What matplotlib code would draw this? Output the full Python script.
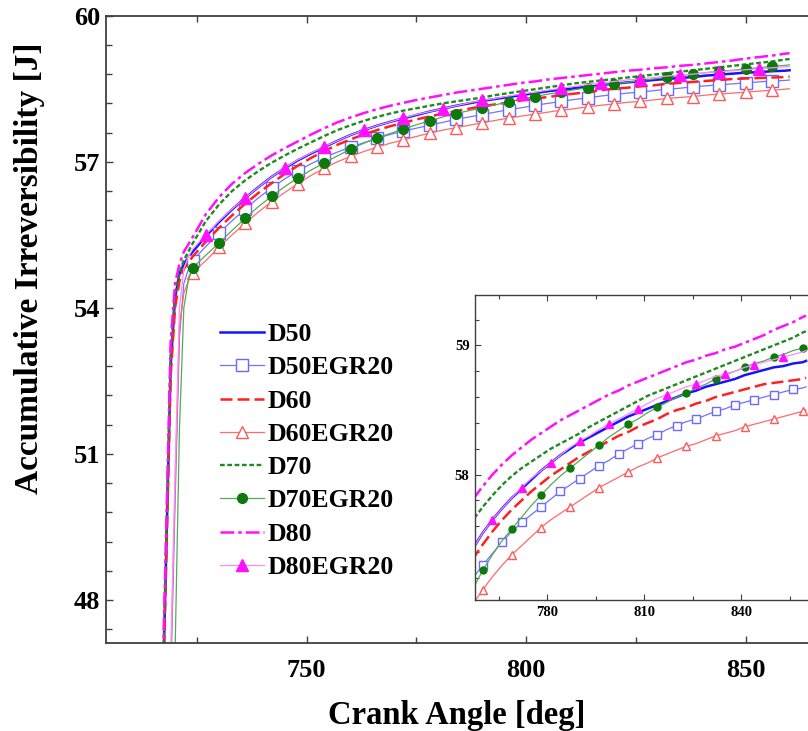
import matplotlib
matplotlib.use("Agg")
import matplotlib.pyplot as plt
from matplotlib.ticker import MultipleLocator

# ---------------- data ----------------
crank_angle = [716, 717, 718, 719, 720, 721, 722, 723,
               724, 727, 730, 733, 736, 739, 742, 745, 748, 751, 754, 757,
               760, 763, 766, 769, 772, 775, 778, 781, 784, 787, 790, 793,
               796, 799, 802, 805, 808, 811, 814, 817, 820, 823, 826, 829,
               832, 835, 838, 841, 844, 847, 850, 853, 856, 859, 860]

D50 = [43.0, 45.3, 49.0, 52.8, 54.2, 54.7, 54.9, 55.03,
       55.15, 55.47, 55.76, 56.02, 56.26, 56.48, 56.69, 56.87, 57.03, 57.17, 57.30, 57.43,
       57.55, 57.65, 57.74, 57.82, 57.89, 57.96, 58.03, 58.09, 58.15, 58.20, 58.25, 58.29,
       58.33, 58.37, 58.41, 58.45, 58.48, 58.51, 58.54, 58.57, 58.60, 58.63, 58.65, 58.68,
       58.70, 58.72, 58.74, 58.77, 58.79, 58.81, 58.83, 58.84, 58.86, 58.87, 58.88]

D50EGR20 = [40.5, 42.0, 44.0, 46.3, 50.0, 53.4, 54.5, 54.78,
            54.97, 55.26, 55.53, 55.79, 56.03, 56.26, 56.46, 56.65, 56.81, 56.96, 57.09, 57.20,
            57.30, 57.39, 57.48, 57.56, 57.63, 57.69, 57.75, 57.81, 57.87, 57.92, 57.97, 58.02,
            58.07, 58.11, 58.16, 58.20, 58.24, 58.28, 58.31, 58.35, 58.38, 58.41, 58.43, 58.46,
            58.49, 58.51, 58.54, 58.56, 58.58, 58.60, 58.62, 58.64, 58.66, 58.67, 58.68]

D60 = [43.0, 45.2, 48.8, 52.6, 54.0, 54.55, 54.8, 54.93,
       55.05, 55.36, 55.64, 55.90, 56.14, 56.36, 56.56, 56.75, 56.92, 57.08, 57.22, 57.35,
       57.46, 57.56, 57.65, 57.73, 57.80, 57.87, 57.93, 57.99, 58.04, 58.09, 58.14, 58.18,
       58.22, 58.26, 58.30, 58.33, 58.37, 58.40, 58.43, 58.47, 58.50, 58.52, 58.55, 58.57,
       58.60, 58.62, 58.64, 58.66, 58.68, 58.70, 58.71, 58.72, 58.73, 58.74, 58.75]

D60EGR20 = [40.8, 42.3, 44.3, 46.6, 50.3, 53.6, 54.3, 54.55,
            54.72, 54.97, 55.24, 55.50, 55.74, 55.97, 56.18, 56.37, 56.55, 56.72, 56.87, 57.00,
            57.11, 57.21, 57.30, 57.38, 57.45, 57.52, 57.59, 57.65, 57.70, 57.75, 57.80, 57.85,
            57.90, 57.94, 57.98, 58.02, 58.06, 58.09, 58.13, 58.16, 58.19, 58.22, 58.24, 58.27,
            58.30, 58.32, 58.34, 58.37, 58.39, 58.41, 58.43, 58.45, 58.47, 58.49, 58.50]

D70 = [43.3, 45.6, 49.3, 53.1, 54.3, 54.72, 54.98, 55.15,
       55.32, 55.78, 56.12, 56.40, 56.62, 56.81, 56.98, 57.13, 57.27, 57.40, 57.53, 57.65,
       57.75, 57.84, 57.92, 57.99, 58.05, 58.10, 58.15, 58.20, 58.24, 58.28, 58.32, 58.37,
       58.41, 58.45, 58.49, 58.53, 58.57, 58.61, 58.64, 58.67, 58.70, 58.73, 58.76, 58.79,
       58.82, 58.85, 58.88, 58.91, 58.94, 58.97, 59.00, 59.03, 59.06, 59.10, 59.11]

D70EGR20 = [40.0, 41.5, 43.0, 45.0, 46.9, 51.5, 54.0, 54.55,
            54.82, 55.08, 55.33, 55.59, 55.84, 56.08, 56.29, 56.49, 56.67, 56.83, 56.98, 57.12,
            57.26, 57.38, 57.49, 57.58, 57.67, 57.76, 57.84, 57.92, 57.99, 58.05, 58.11, 58.17,
            58.23, 58.29, 58.34, 58.39, 58.43, 58.48, 58.52, 58.56, 58.60, 58.63, 58.67, 58.70,
            58.74, 58.77, 58.80, 58.83, 58.86, 58.88, 58.91, 58.93, 58.96, 58.98, 58.99]

D80 = [43.5, 45.8, 49.5, 53.3, 54.5, 54.9, 55.15, 55.3,
       55.45, 55.92, 56.27, 56.55, 56.77, 56.96, 57.13, 57.28, 57.42, 57.56, 57.69, 57.81,
       57.91, 58.00, 58.08, 58.15, 58.21, 58.27, 58.32, 58.37, 58.42, 58.46, 58.50, 58.54,
       58.58, 58.62, 58.65, 58.69, 58.72, 58.75, 58.78, 58.81, 58.84, 58.87, 58.89, 58.92,
       58.94, 58.97, 58.99, 59.02, 59.05, 59.08, 59.12, 59.15, 59.18, 59.22, 59.23]

D80EGR20 = [41.0, 42.5, 44.5, 46.8, 50.6, 54.0, 54.8, 55.05,
            55.20, 55.50, 55.78, 56.03, 56.26, 56.48, 56.69, 56.88, 57.04, 57.18, 57.31, 57.43,
            57.55, 57.65, 57.74, 57.82, 57.90, 57.97, 58.03, 58.09, 58.15, 58.21, 58.26, 58.30,
            58.35, 58.39, 58.43, 58.47, 58.51, 58.55, 58.59, 58.62, 58.65, 58.68, 58.70, 58.73,
            58.76, 58.78, 58.80, 58.83, 58.85, 58.87, 58.89, 58.91, 58.93, 58.95, 58.96]

labels = ["D50", "D50EGR20", "D60", "D60EGR20", "D70", "D70EGR20", "D80", "D80EGR20"]
series = [D50, D50EGR20, D60, D60EGR20, D70, D70EGR20, D80, D80EGR20]

main_xticks = [750, 800, 850]
main_yticks = [48, 51, 54, 57, 60]
inset_xticks = [780, 810, 840]
inset_yticks = [58, 59]

# ---------------- styles ----------------
styles = {
    "D50":      dict(color="#1414ff", lw=1.8, ls="-", marker=None),
    "D50EGR20": dict(color="#7272ff", lw=0.9, ls="-", marker="s", mfc="white", mec="#6a6aff",
                     ms=8, ims=5.5, mew=1.0, me=slice(8, -1, 2), ime=slice(20, -1, 2)),
    "D60":      dict(color="#ff2020", lw=1.8, ls=(0, (4.8, 2.0)), marker=None),
    "D60EGR20": dict(color="#ff6a6a", lw=0.9, ls="-", marker="^", mfc="white", mec="#ff5a5a",
                     ms=8, ims=6, mew=1.0, me=slice(8, -1, 2), ime=slice(20, -1, 3)),
    "D70":      dict(color="#1f8a1f", lw=1.7, ls=(0, (2.0, 1.1)), marker=None),
    "D70EGR20": dict(color="#55aa55", lw=0.9, ls="-", marker="o", mfc="#0b7a0b", mec="#0b7a0b",
                     ms=7, ims=5, mew=1.0, me=slice(8, -1, 2), ime=slice(20, -1, 3)),
    "D80":      dict(color="#ff10ff", lw=1.8, ls=(0, (5.5, 1.6, 1.4, 1.6)), marker=None),
    "D80EGR20": dict(color="#ff8cff", lw=0.9, ls="-", marker="^", mfc="#ff10ff", mec="#ff10ff",
                     ms=8, ims=6, mew=1.0, me=slice(9, -1, 3), ime=slice(21, -1, 3)),
}

plt.rcParams["font.family"] = ["Liberation Serif", "DejaVu Serif"]
plt.rcParams["font.weight"] = "bold"
plt.rcParams["axes.labelweight"] = "bold"

W, H = 808, 731
fig = plt.figure(figsize=(W / 100, H / 100), dpi=100)

spine_col = "#404040"

# ---------------- main axes ----------------
L, T, B = 105.7, 15.7, 643.3
ax = fig.add_axes([L / W, 1 - B / H, 1 - L / W, (B - T) / H])

for lab, y in zip(labels, series):
    st = styles[lab]
    kw = dict(color=st["color"], lw=st["lw"], ls=st["ls"], label=lab)
    if st["marker"]:
        kw.update(marker=st["marker"], ms=st["ms"], mfc=st["mfc"], mec=st["mec"],
                  mew=st["mew"], markevery=st["me"])
    ax.plot(crank_angle, y, **kw)

ax.set_xlim(704.2, 864.2)
ax.set_ylim(47.11, 60.0)
ax.set_xticks(main_xticks)
ax.set_yticks(main_yticks)
ax.xaxis.set_minor_locator(MultipleLocator(25))
ax.yaxis.set_minor_locator(MultipleLocator(0.6))
ax.tick_params(which="both", direction="in", top=True, right=False, color=spine_col,
               width=1.0)
ax.tick_params(which="major", length=5, labelsize=19)
ax.tick_params(which="minor", length=4)
ax.tick_params(axis="x", which="major", pad=11)
ax.tick_params(axis="y", which="major", pad=4)
for lbl in ax.get_xticklabels() + ax.get_yticklabels():
    lbl.set_fontweight("bold")
for s in ["left", "bottom", "top"]:
    ax.spines[s].set_color(spine_col)
    ax.spines[s].set_linewidth(1.3)
ax.spines["right"].set_visible(False)

ax.set_xlabel("Crank Angle [deg]", fontsize=23.5, fontweight="bold", labelpad=13)
ax.set_ylabel("Accumulative Irreversibility [J]", fontsize=24, fontweight="bold")
ax.yaxis.set_label_coords((45 - L) / (W - L), (B - 268) / (B - T))

leg = ax.legend(loc="upper left", bbox_to_anchor=(220 / W, 1 - 323 / H),
                bbox_transform=fig.transFigure, frameon=False, fontsize=18.5,
                handlelength=1.7, handletextpad=0.15, labelspacing=0.4,
                borderpad=0, borderaxespad=0, numpoints=1)
for t in leg.get_texts():
    t.set_fontweight("bold")

# ---------------- inset ----------------
iL, iT, iB = 475, 295, 600
axi = fig.add_axes([iL / W, 1 - iB / H, 1 - iL / W, (iB - iT) / H])
axi.set_facecolor("white")
for lab, y in zip(labels, series):
    st = styles[lab]
    kw = dict(color=st["color"], lw=st["lw"], ls=st["ls"])
    if st["marker"]:
        kw.update(marker=st["marker"], ms=st["ims"], mfc=st["mfc"], mec=st["mec"],
                  mew=st["mew"], markevery=st["ime"])
    axi.plot(crank_angle, y, **kw)
axi.set_xlim(757.6, 860.6)
axi.set_ylim(57.03, 59.39)
axi.set_xticks(inset_xticks)
axi.set_yticks(inset_yticks)
axi.xaxis.set_minor_locator(MultipleLocator(15))
axi.yaxis.set_minor_locator(MultipleLocator(0.2))
axi.tick_params(which="both", direction="in", top=True, right=False, color=spine_col,
                width=0.8)
axi.tick_params(which="major", length=4, labelsize=10.5, pad=4)
axi.tick_params(which="minor", length=3)
for lbl in axi.get_xticklabels() + axi.get_yticklabels():
    lbl.set_fontweight("bold")
for s in ["left", "bottom", "top"]:
    axi.spines[s].set_color(spine_col)
    axi.spines[s].set_linewidth(1.0)
axi.spines["right"].set_visible(False)

fig.savefig("out.png", dpi=100)
